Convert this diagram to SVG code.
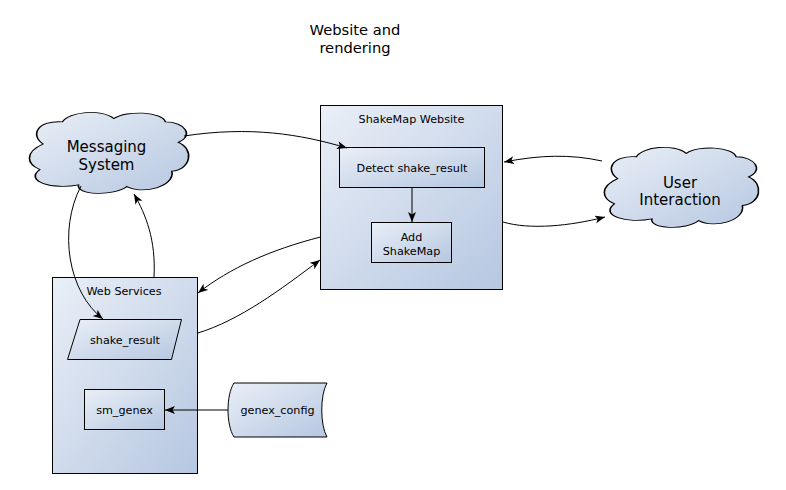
<svg xmlns="http://www.w3.org/2000/svg" width="786" height="490" viewBox="0 0 786 490">
<defs>
<linearGradient id="g" x1="0" y1="0" x2="1" y2="1">
<stop offset="0" stop-color="#eaeff7"/>
<stop offset="1" stop-color="#b6c7e1"/>
</linearGradient>
<marker id="ah" markerUnits="userSpaceOnUse" markerWidth="12" markerHeight="10" refX="10" refY="4" orient="auto" viewBox="0 0 12 10">
<path d="M0,0 L10,4 L0,8 L2.5,4 Z" fill="#000"/>
</marker>
<path id="cloud" d="M10,40 C2,30 6,12 22,14 C26,2 46,-2 54,10 C62,0 84,2 86,14 C98,14 104,30 94,38 C104,46 102,70 90,72 C92,90 72,100 62,90 C54,102 30,100 32,88 C16,94 -2,84 8,70 C0,64 -2,50 10,40 Z"/>
</defs>
<style>
.box{fill:url(#g);stroke:#000;stroke-width:1}
.cl{fill:url(#g);stroke:#000;stroke-width:1;vector-effect:non-scaling-stroke}
.t{font-family:"DejaVu Sans",sans-serif;font-size:11.2px;fill:#000;text-anchor:middle}
.tb{font-family:"DejaVu Sans",sans-serif;font-size:15px;fill:#000;text-anchor:middle}
.c{fill:none;stroke:#000;stroke-width:1;marker-end:url(#ah)}
</style>
<g id="title">
<text class="tb" x="355" y="35" style="font-size:14.7px">Website and</text>
<text class="tb" x="355" y="53" style="font-size:14.7px">rendering</text>
</g>
<g id="web-services">
<rect class="box" x="52.5" y="277.5" width="145" height="196"/>
<text class="t" x="124" y="295">Web Services</text>
</g>
<g id="shakemap-website">
<rect class="box" x="320.5" y="105.5" width="182" height="184"/>
<text class="t" x="411.5" y="123">ShakeMap Website</text>
</g>
<g id="detect">
<rect class="box" x="339.5" y="147.5" width="145" height="40"/>
<text class="t" x="412" y="172">Detect shake_result</text>
</g>
<g id="add-shakemap">
<rect class="box" x="371.5" y="222.5" width="80" height="40"/>
<text class="t" x="411.5" y="240.5">Add</text>
<text class="t" x="411.5" y="255">ShakeMap</text>
</g>
<g id="shake-result">
<polygon class="box" points="80,319.5 181.5,319.5 171.5,359.5 67.5,359.5"/>
<text class="t" x="125" y="344">shake_result</text>
</g>
<g id="sm-genex">
<rect class="box" x="84.5" y="389.5" width="80" height="40"/>
<text class="t" x="124.5" y="414">sm_genex</text>
</g>
<g id="genex-config">
<path class="box" d="M234,383 L327,383 C320,395 320,425 327,437 L234,437 C226,425 226,395 234,383 Z"/>
<text class="t" x="277.5" y="414">genex_config</text>
</g>
<g id="messaging-system">
<use href="#cloud" class="cl" transform="translate(27,110) scale(1.61,0.85)"/>
<text class="tb" x="106.5" y="151.5">Messaging</text>
<text class="tb" x="106.5" y="169.5">System</text>
</g>
<g id="user-interaction">
<use href="#cloud" class="cl" transform="translate(602,145) scale(1.56,0.84)"/>
<text class="tb" x="680" y="188">User</text>
<text class="tb" x="680" y="205">Interaction</text>
</g>
<g id="connectors">
<path class="c" d="M184,136 C250,126 300,134 347,148"/>
<path class="c" d="M602,161 C570,154 540,155 504,162"/>
<path class="c" d="M503,222 C530,230 570,226 605,217"/>
<path class="c" d="M320.5,237 C270,250 230,268 198,293"/>
<path class="c" d="M198,333 C240,320 280,290 320,260"/>
<path class="c" d="M81,186 C58,230 68,292 103,319"/>
<path class="c" d="M154,277 C156,240 146,215 134,194"/>
<path class="c" d="M228,410 L165,410"/>
<path class="c" d="M412,187.5 L412,222"/>
</g>
</svg>
